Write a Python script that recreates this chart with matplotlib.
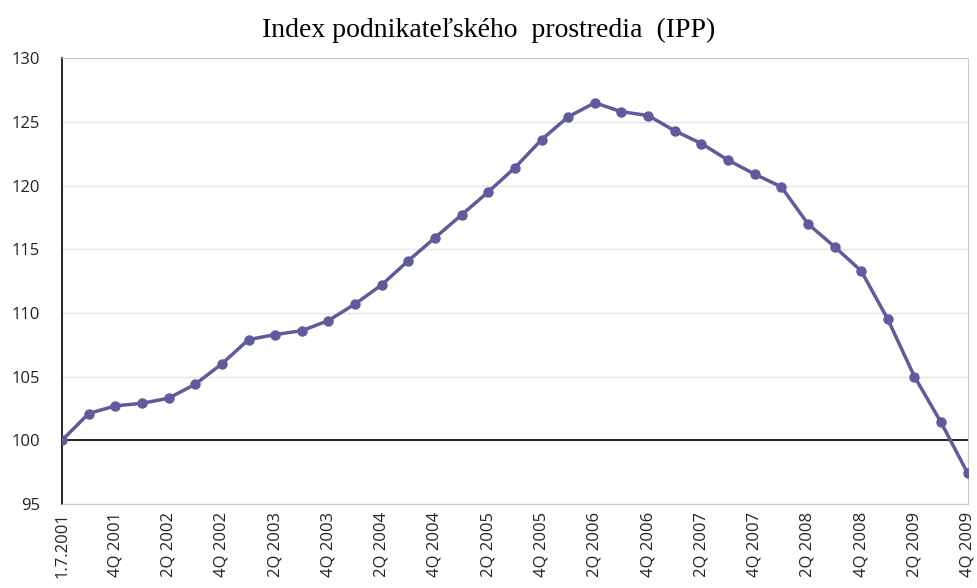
import numpy as np
import matplotlib.pyplot as plt

# quarterly data, base 1.7.2001 = 100
quarters = ["1.7.2001", "3Q 2001", "4Q 2001",
            "1Q 2002", "2Q 2002", "3Q 2002", "4Q 2002",
            "1Q 2003", "2Q 2003", "3Q 2003", "4Q 2003",
            "1Q 2004", "2Q 2004", "3Q 2004", "4Q 2004",
            "1Q 2005", "2Q 2005", "3Q 2005", "4Q 2005",
            "1Q 2006", "2Q 2006", "3Q 2006", "4Q 2006",
            "1Q 2007", "2Q 2007", "3Q 2007", "4Q 2007",
            "1Q 2008", "2Q 2008", "3Q 2008", "4Q 2008",
            "1Q 2009", "2Q 2009", "3Q 2009", "4Q 2009"]
ipp = [100.0, 102.1, 102.7, 102.9, 103.3, 104.4, 106.0,
       107.9, 108.3, 108.6, 109.4, 110.7, 112.2, 114.1, 115.9,
       117.7, 119.5, 121.4, 123.6, 125.4, 126.5, 125.8, 125.5,
       124.3, 123.3, 122.0, 120.9, 119.9, 117.0, 115.2, 113.3,
       109.5, 105.0, 101.4, 97.4]

fig = plt.figure(figsize=(9.77, 5.88), dpi=100)
ax = fig.add_axes([0.0635, 0.143, 0.927, 0.758])

x = np.arange(len(quarters))
ax.plot(x, ipp, color='#5f5b9c', linewidth=2.5, marker='o', markersize=6.5, zorder=3)
ax.axhline(100, color='black', linewidth=1.2, zorder=2)

ax.set_xlim(0, len(quarters) - 1)
ax.set_ylim(95, 130)
ax.set_yticks(np.arange(95, 131, 5))
ax.yaxis.grid(True, color='#e4e4e4', linewidth=1)
ax.set_axisbelow(True)

ax.set_xticks(x[::2])
ax.set_xticklabels(quarters[::2], rotation=90, fontsize=12, family='Open Sans', color='#222222')
for lbl in ax.get_yticklabels():
    lbl.set_fontsize(12)
    lbl.set_family('Open Sans')
    lbl.set_color('#222222')
ax.tick_params(axis='y', length=0, pad=16)
ax.tick_params(axis='x', length=0, pad=6)

ax.spines['left'].set_color('black')
ax.spines['left'].set_linewidth(1.2)
for s in ['top', 'right', 'bottom']:
    ax.spines[s].set_color('#c8c8c8')

fig.text(0.5, 0.948, "Index podnikateľského  prostredia  (IPP)", ha='center', va='center',
         fontsize=20, family='Liberation Serif')

fig.savefig('out.png', dpi=100)
